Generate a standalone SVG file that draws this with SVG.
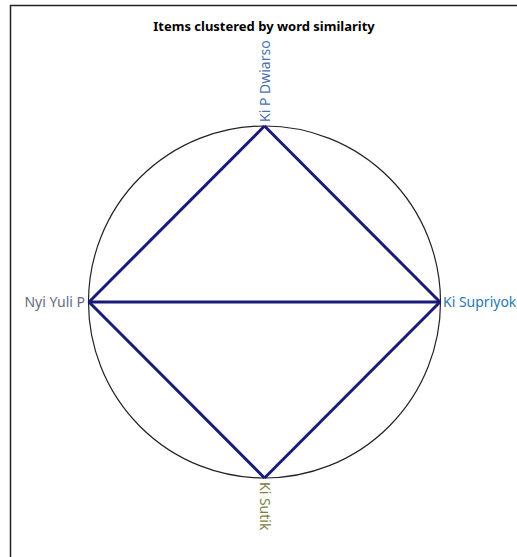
<svg xmlns="http://www.w3.org/2000/svg" width="517" height="557" viewBox="0 0 517 557">
<style>
text{font-family:"Noto Sans","Open Sans","Liberation Sans",sans-serif;font-size:14px}
.title{font-weight:bold;font-size:13px;fill:#000}
.edge{stroke:#1a1a7a;stroke-width:3;fill:none}
</style>
<rect x="0" y="0" width="517" height="557" fill="#fff"/>
<path d="M10.5 557V5.5H517" fill="none" stroke="#222" stroke-width="1.5"/>
<text class="title" x="264" y="31" text-anchor="middle">Items clustered by word similarity</text>
<circle cx="264.5" cy="302" r="176" fill="none" stroke="#222" stroke-width="1.2"/>
<g id="connectors">
<line class="edge" x1="264.5" y1="126" x2="89" y2="302"/>
<line class="edge" x1="264.5" y1="126" x2="440" y2="302"/>
<line class="edge" x1="89" y1="302" x2="440" y2="302"/>
<line class="edge" x1="89" y1="302" x2="264.5" y2="478"/>
<line class="edge" x1="440" y1="302" x2="264.5" y2="478"/>
</g>
<g id="n-dwiarso"><text x="0" y="0" transform="translate(269.5,122) rotate(-90)" fill="#4a70b0">Ki P Dwiarso</text></g>
<g id="n-yuli"><text x="85" y="307" text-anchor="end" fill="#6a6a80">Nyi Yuli P</text></g>
<g id="n-supriyok"><text x="443" y="307" fill="#2a78b0">Ki Supriyok</text></g>
<g id="n-sutik"><text x="0" y="0" transform="translate(259.5,482) rotate(90)" fill="#808040">Ki Sutik</text></g>
</svg>
